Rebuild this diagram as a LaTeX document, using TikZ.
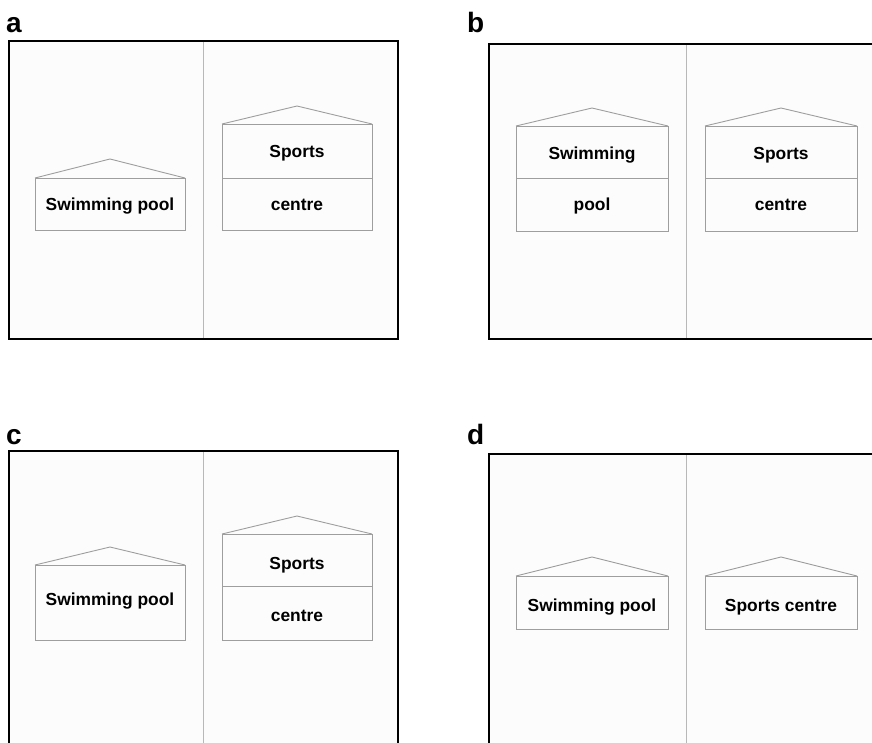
\documentclass[tikz,border=0pt]{standalone}
\usepackage{fontspec}
\setmainfont{Liberation Sans}
\begin{document}
\begin{tikzpicture}[x=1pt,y=-1pt,
  frame/.style={draw=black,line width=2pt},
  midline/.style={draw=black!28,line width=1.3pt},
  bld/.style={draw=black!38,line width=0.9pt,line join=miter},
  txt/.style={font=\fontsize{17.4}{20}\selectfont\bfseries,inner sep=0pt,anchor=base,text=black},
  plbl/.style={font=\fontsize{28}{30}\selectfont\bfseries,inner sep=0pt,anchor=base west}]
\useasboundingbox (0,0) rectangle (872,743);
\fill[white] (0,0) rectangle (872,743);
\clip (0,0) rectangle (872,743);

% panel labels
\node[plbl] (la) at (6,33) {a};
\node[plbl] (lb) at (467,33) {b};
\node[plbl] (lc) at (6,444) {c};
\node[plbl] (ld) at (467,444) {d};

% panel backgrounds and frames
\filldraw[frame,fill=black!1] (9,41) rectangle (398,339);
\filldraw[frame,fill=black!1] (489,44) rectangle (884,339);
\filldraw[frame,fill=black!1] (9,451) rectangle (398,760);
\filldraw[frame,fill=black!1] (489,454) rectangle (884,760);

% middle lines
\draw[midline] (203.5,42) -- (203.5,338);
\draw[midline] (686.5,45) -- (686.5,338);
\draw[midline] (203.5,452) -- (203.5,743);
\draw[midline] (686.5,455) -- (686.5,743);

% ---- panel a ----
\draw[bld] (35,178) -- (110,159) -- (185,178);
\draw[bld] (35,178) rectangle (185,230);
\node[txt] (a1) at (110,210.5) {Swimming pool};
\draw[bld] (222,124) -- (297,106) -- (372,124);
\draw[bld] (222,124) rectangle (372,230);
\draw[bld] (222,178) -- (372,178);
\node[txt] (a2) at (297,157.5) {Sports};
\node[txt] (a3) at (297,210.5) {centre};

% ---- panel b ----
\draw[bld] (516,126) -- (592,108) -- (668,126);
\draw[bld] (516,126) rectangle (668,231);
\draw[bld] (516,178) -- (668,178);
\node[txt] (b1) at (592,159.5) {Swimming};
\node[txt] (b2) at (592,210.5) {pool};
\draw[bld] (705,126) -- (781,108) -- (857,126);
\draw[bld] (705,126) rectangle (857,231);
\draw[bld] (705,178) -- (857,178);
\node[txt] (b3) at (781,159.5) {Sports};
\node[txt] (b4) at (781,210.5) {centre};

% ---- panel c ----
\draw[bld] (35,565) -- (110,547) -- (185,565);
\draw[bld] (35,565) rectangle (185,640);
\node[txt] (c1) at (110,605.5) {Swimming pool};
\draw[bld] (222,534) -- (297,516) -- (372,534);
\draw[bld] (222,534) rectangle (372,640);
\draw[bld] (222,586) -- (372,586);
\node[txt] (c2) at (297,569.5) {Sports};
\node[txt] (c3) at (297,621) {centre};

% ---- panel d ----
\draw[bld] (516,576) -- (592,557) -- (668,576);
\draw[bld] (516,576) rectangle (668,629);
\node[txt] (d1) at (592,611.5) {Swimming pool};
\draw[bld] (705,576) -- (781,557) -- (857,576);
\draw[bld] (705,576) rectangle (857,629);
\node[txt] (d2) at (781,611.5) {Sports centre};
\end{tikzpicture}
\end{document}
